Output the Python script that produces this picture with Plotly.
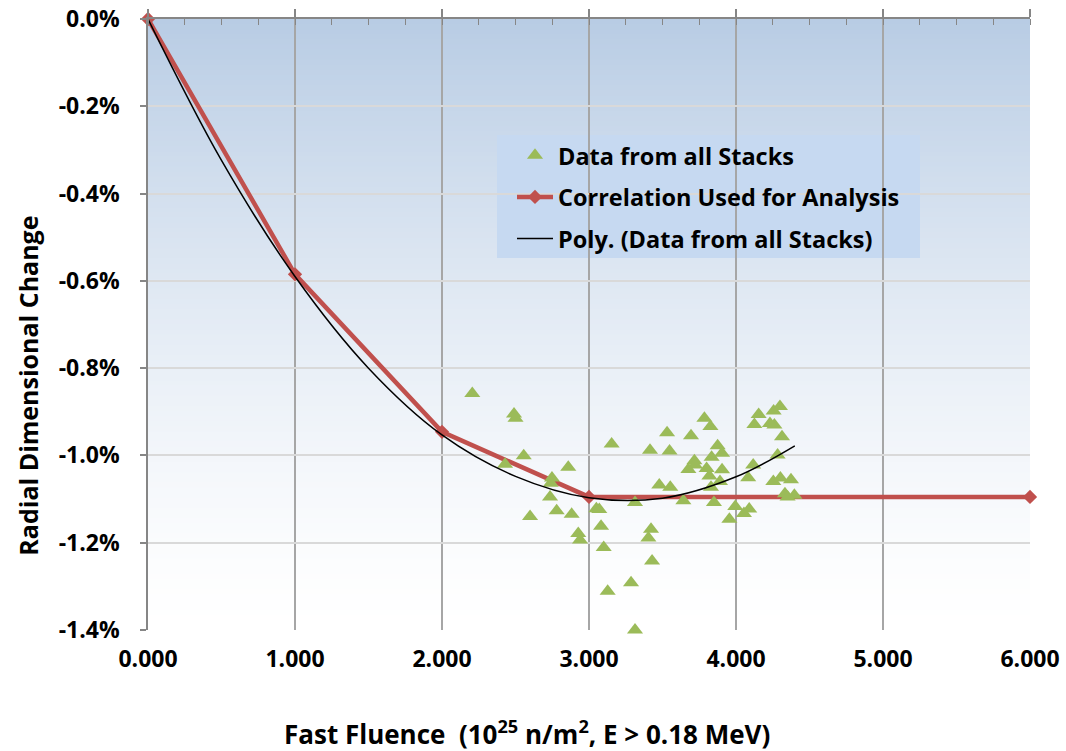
import plotly.graph_objects as go

# Measured radial dimensional change (%) vs fast fluence, all stacks
fluence = [
    2.206, 2.49, 2.50, 3.154, 2.556, 2.429, 2.859, 2.748, 2.740, 2.735,
    2.780, 2.882, 2.599, 3.05, 3.07, 3.082, 2.927, 2.939, 3.100, 3.127,
    3.313, 3.422, 3.404, 3.429, 3.286, 3.313, 3.415, 3.531, 3.548, 3.694,
    3.785, 3.826, 3.875, 3.905, 3.834, 3.717, 3.721, 3.676, 3.80, 3.905,
    3.819, 3.891, 3.830, 3.478, 3.553, 3.642, 3.850, 3.995, 3.955, 4.054,
    4.090, 4.083, 4.117, 4.283, 4.313, 4.261, 4.231, 4.125, 4.154, 4.256,
    4.299, 4.254, 4.302, 4.374, 4.333, 4.397, 4.351,
]
change = [
    -0.858, -0.905, -0.915, -0.974, -1.001, -1.020, -1.027, -1.052, -1.064, -1.095,
    -1.127, -1.135, -1.140, -1.122, -1.124, -1.162, -1.179, -1.194, -1.211, -1.311,
    -1.108, -1.169, -1.189, -1.242, -1.292, -1.400, -0.988, -0.948, -0.990, -0.955,
    -0.915, -0.934, -0.978, -0.995, -1.004, -1.012, -1.022, -1.032, -1.030, -1.033,
    -1.047, -1.060, -1.073, -1.068, -1.073, -1.104, -1.108, -1.117, -1.146, -1.133,
    -1.123, -1.051, -1.022, -0.999, -0.957, -0.930, -0.927, -0.929, -0.906, -0.898,
    -0.888, -1.060, -1.052, -1.056, -1.088, -1.091, -1.095,
]

# Correlation used for the analysis
corr_fluence = [0.0, 1.0, 2.0, 3.0, 6.0]
corr_change = [0.0, -0.585, -0.946, -1.095, -1.095]

# Polynomial trendline through the stack data
poly_fluence = [0.0, 0.5, 1.0, 1.5, 2.0, 2.5, 3.0, 3.5, 4.0, 4.4]
poly_change = [0.0, -0.324, -0.590, -0.800, -0.953, -1.048, -1.097, -1.098, -1.049, -0.978]

x_ticks = [0, 1, 2, 3, 4, 5, 6]
x_tick_labels = ["0.000", "1.000", "2.000", "3.000", "4.000", "5.000", "6.000"]
y_ticks = [0.0, -0.2, -0.4, -0.6, -0.8, -1.0, -1.2, -1.4]
y_tick_labels = ["0.0%", "-0.2%", "-0.4%", "-0.6%", "-0.8%", "-1.0%", "-1.2%", "-1.4%"]

FONT = "'Open Sans', Lato, sans-serif"
GREEN = "#9bbb59"
RED = "#c0504d"
AXIS_GREY = "#868686"

fig = go.Figure()

fig.add_trace(go.Scatter(
    x=corr_fluence, y=corr_change, name="Correlation Used for Analysis",
    mode="lines+markers", legendgroup="b", legendrank=2, cliponaxis=False,
    line=dict(color=RED, width=4.5),
    marker=dict(symbol="diamond", size=11, color=RED),
))
fig.add_trace(go.Scatter(
    x=fluence, y=change, name="Data from all Stacks",
    mode="markers", legendgroup="a", legendrank=1, cliponaxis=False,
    marker=dict(symbol="triangle-up", size=14, color=GREEN),
))
fig.add_trace(go.Scatter(
    x=poly_fluence, y=poly_change, name="Poly. (Data from all Stacks)",
    mode="lines", legendgroup="c", legendrank=3, line_shape="spline",
    line=dict(color="black", width=1.5),
))

# Vertical blue-to-white gradient behind the plot area
shapes = []
n_strips = 120
top = (184, 204, 228)
for i in range(n_strips):
    t = ((i + 0.5) / n_strips) ** 1.4  # 0 at bottom, 1 at top
    c = tuple(round(255 + (tc - 255) * t) for tc in top)
    shapes.append(dict(
        type="rect", xref="paper", yref="paper", layer="below",
        x0=0, x1=1, y0=i / n_strips, y1=(i + 1) / n_strips + 0.002,
        line=dict(width=0), fillcolor="rgb(%d,%d,%d)" % c,
    ))

# Legend panel
shapes.append(dict(
    type="rect", xref="paper", yref="paper", layer="between",
    x0=0.3957, x1=0.8753, y0=0.6088, y1=0.8101,
    line=dict(width=0), fillcolor="#c6d9f1",
))

fig.update_layout(
    width=1066, height=751,
    margin=dict(l=148, r=36, t=19, b=121),
    paper_bgcolor="white", plot_bgcolor="white",
    font=dict(family=FONT, color="black", size=21, weight="bold"),
    shapes=shapes,
    showlegend=True,
    legend=dict(
        x=0.4127, y=0.8125, xanchor="left", yanchor="top",
        bgcolor="rgba(0,0,0,0)", borderwidth=0,
        font=dict(family=FONT, size=23.5, color="black", weight="bold"),
        itemwidth=36, tracegroupgap=8, traceorder="grouped",
    ),
    xaxis=dict(
        range=[0, 6], tickvals=x_ticks, ticktext=x_tick_labels,
        showgrid=True, gridcolor="#a6a6a6", gridwidth=1.5,
        zeroline=False, showline=False, ticks="", automargin=False,
        ticklabelstandoff=13,
        tickfont=dict(family=FONT, size=23, weight="bold"),
    ),
    xaxis2=dict(
        overlaying="x", matches="x", side="top", range=[0, 6],
        tickvals=x_ticks, showticklabels=False, showgrid=False,
        zeroline=False, showline=True, linecolor=AXIS_GREY, linewidth=1.5,
        ticks="outside", ticklen=8, tickcolor=AXIS_GREY, tickwidth=1.5,
        minor=dict(dtick=0.25, ticks="inside", ticklen=6, tickcolor=AXIS_GREY, tickwidth=1.2),
        automargin=False,
    ),
    yaxis=dict(
        range=[-1.4, 0], tickvals=y_ticks, ticktext=y_tick_labels,
        showgrid=True, gridcolor="#d9d9d9", gridwidth=1.5,
        zeroline=False, showline=True, linecolor=AXIS_GREY, linewidth=1.5,
        ticks="outside", ticklen=6, tickcolor=AXIS_GREY, tickwidth=1.5,
        ticklabelstandoff=16, automargin=False,
        tickfont=dict(family=FONT, size=23, weight="bold"),
    ),
    annotations=[
        dict(
            text="Radial Dimensional Change", xref="paper", yref="paper",
            x=-0.136, y=0.40, xanchor="center", yanchor="middle",
            textangle=-90, showarrow=False,
            font=dict(family=FONT, size=25, weight="bold"),
        ),
        dict(
            text="Fast Fluence  (10<sup>25</sup> n/m<sup>2</sup>, E > 0.18 MeV)",
            xref="paper", yref="paper", x=0.4297, y=-0.1686,
            xanchor="center", yanchor="middle", showarrow=False,
            font=dict(family=FONT, size=26, weight="bold"),
        ),
    ],
)

# Top axis line carrying the minor tick marks
fig.add_trace(go.Scatter(x=[None], y=[None], xaxis="x2", showlegend=False, hoverinfo="skip"))

fig.write_html("out.html")
